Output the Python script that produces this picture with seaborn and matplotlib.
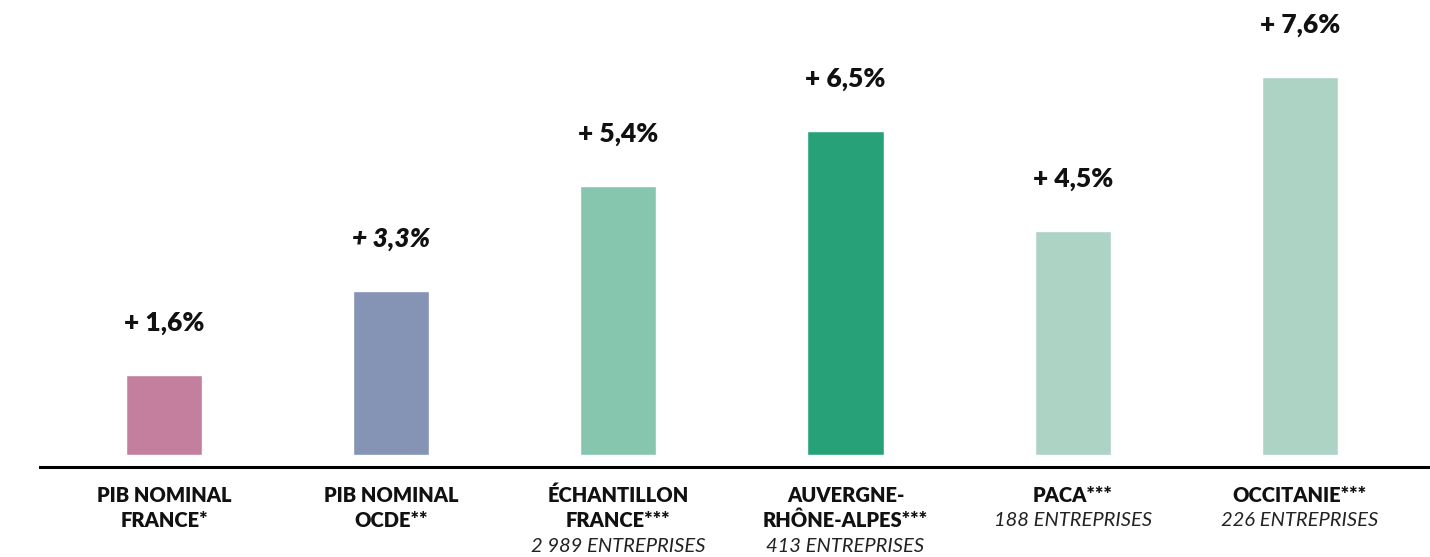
import matplotlib
matplotlib.use("Agg")
import matplotlib.pyplot as plt
import matplotlib.transforms as mtransforms
import seaborn as sns
import pandas as pd

categories = ["PIB NOMINAL\nFRANCE*", "PIB NOMINAL\nOCDE**", "ÉCHANTILLON\nFRANCE***",
              "AUVERGNE-\nRHÔNE-ALPES***", "PACA***", "OCCITANIE***"]
subtitles = ["", "", "2 989 ENTREPRISES", "413 ENTREPRISES", "188 ENTREPRISES", "226 ENTREPRISES"]
values = [1.6, 3.3, 5.4, 6.5, 4.5, 7.6]
value_labels = ["+ 1,6%", "+ 3,3%", "+ 5,4%", "+ 6,5%", "+ 4,5%", "+ 7,6%"]
colors = ["#C47F9F", "#8593B5", "#86C5AE", "#27A278", "#ADD3C5", "#ADD3C5"]
label_styles = ["normal", "italic", "normal", "normal", "normal", "normal"]

sns.set_theme(style="white")
plt.rcParams['font.family'] = ['Lato', 'DejaVu Sans']

df = pd.DataFrame({"cat": categories, "val": values})

fig = plt.figure(figsize=(14.30, 5.57), dpi=100)
ax = fig.add_axes([40 / 1430, 90 / 557, 1390 / 1430, 467 / 557])

sns.barplot(data=df, x="cat", y="val", hue="cat", palette=colors, legend=False,
            width=0.335, ax=ax, saturation=1)

ax.set_xlim(-0.546, 5.573)
ax.set_ylim(-0.24, 9.14)

for i, (v, lab, st) in enumerate(zip(values, value_labels, label_styles)):
    ax.annotate(lab, xy=(i, v), xytext=(0, 52), textcoords="offset pixels",
                ha="center", va="center", fontsize=19, fontweight="heavy",
                fontstyle=st, color="#111111")

for s in ["top", "right", "left"]:
    ax.spines[s].set_visible(False)
ax.spines["bottom"].set_linewidth(2.2)
ax.spines["bottom"].set_color("#000000")
ax.set_yticks([])
ax.set_xticks(range(len(categories)))
ax.set_xticklabels([""] * len(categories))
ax.tick_params(axis="x", length=0)
ax.set_xlabel("")
ax.set_ylabel("")

trans = mtransforms.blended_transform_factory(ax.transData, fig.transFigure)
for i, (cat, sub) in enumerate(zip(categories, subtitles)):
    lines = cat.split("\n")
    ypix = 495
    for ln in lines:
        ax.text(i, 1 - ypix / 557, ln, transform=trans, ha="center", va="center",
                fontsize=14.5, fontweight="heavy", color="#111111")
        ypix += 25.5
    if sub:
        ax.text(i, 1 - ypix / 557, sub, transform=trans, ha="center", va="center",
                fontsize=14.5, fontstyle="italic", fontweight="normal", color="#222222")

fig.savefig("out.png", dpi=100)
